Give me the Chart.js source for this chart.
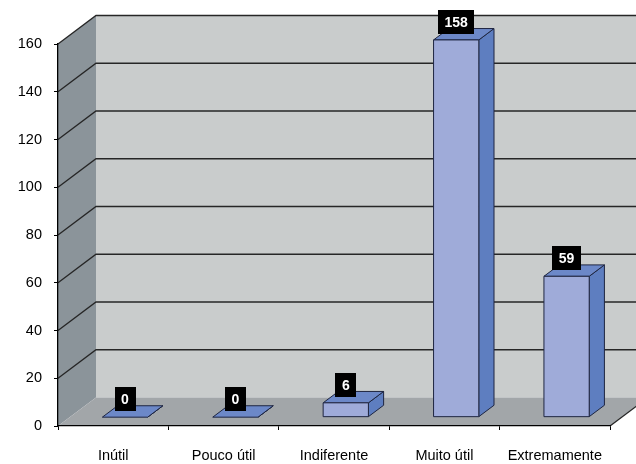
<!DOCTYPE html>
<html>
<head>
<meta charset="utf-8">
<script src="https://cdn.jsdelivr.net/npm/chart.js@4.4.1/dist/chart.umd.min.js"></script>
<style>
  html, body { margin: 0; padding: 0; background: #ffffff; }
  #wrap { width: 636px; height: 464px; }
</style>
</head>
<body>
<div id="wrap"><canvas id="c" width="636" height="464"></canvas></div>
<script>
// Answers per category
const categories = ['Inútil', 'Pouco útil', 'Indiferente', 'Muito útil', 'Extremamente'];
const responses = [0, 0, 6, 158, 59];

// Value axis
const yMin = 0;
const yMax = 160;
const yStep = 20;

// 3D look: how far the room recedes, and where the bars sit inside it
const DEPTH_X = 38;
const DEPTH_Y = 28.5;
const BAR_Z0 = 0.31;
const BAR_Z1 = 0.71;
const FONT = "Arial, 'Liberation Sans', sans-serif";
const AXIS_FONT_SIZE = 14.5;

const COLORS = {
  backWall: '#C9CCCC',
  sideWall: '#8B949A',
  floor: '#A2A6A9',
  grid: '#262626',
  barFront: '#9FABD9',
  barTop: '#6C88C8',
  barSide: '#5E7EC0',
  barEdge: '#1E2540'
};

function poly(ctx, pts, fill, stroke, lw) {
  ctx.beginPath();
  ctx.moveTo(pts[0][0], pts[0][1]);
  for (let i = 1; i < pts.length; i++) ctx.lineTo(pts[i][0], pts[i][1]);
  ctx.closePath();
  if (fill) { ctx.fillStyle = fill; ctx.fill(); }
  if (stroke) { ctx.strokeStyle = stroke; ctx.lineWidth = lw || 1; ctx.stroke(); }
}

// Walls, floor and the receding gridlines
const roomPlugin = {
  id: 'room',
  beforeDraw(chart) {
    const { ctx, chartArea: { left, right, top, bottom } } = chart;
    const ys = chart.scales.y;
    const W = chart.width;
    ctx.save();
    // back wall
    poly(ctx, [[left + DEPTH_X, top - DEPTH_Y], [W + 2, top - DEPTH_Y], [W + 2, bottom - DEPTH_Y], [left + DEPTH_X, bottom - DEPTH_Y]], COLORS.backWall);
    // left wall
    poly(ctx, [[left, top], [left + DEPTH_X, top - DEPTH_Y], [left + DEPTH_X, bottom - DEPTH_Y], [left, bottom]], COLORS.sideWall);
    // floor
    poly(ctx, [[left, bottom], [left + DEPTH_X, bottom - DEPTH_Y], [right + DEPTH_X + 40, bottom - DEPTH_Y], [right, bottom]], COLORS.floor);
    // clear what lies past the floor's right edge
    poly(ctx, [[right, bottom], [right + DEPTH_X + 40, bottom - DEPTH_Y - 40 * DEPTH_Y / DEPTH_X], [W + 2, bottom + 2]], '#ffffff');

    ctx.strokeStyle = COLORS.grid;
    ctx.lineWidth = 1.3;
    for (let v = yMin + yStep; v <= yMax; v += yStep) {
      const py = ys.getPixelForValue(v);
      ctx.beginPath();
      ctx.moveTo(left, py);
      ctx.lineTo(left + DEPTH_X, py - DEPTH_Y);
      ctx.lineTo(W + 2, py - DEPTH_Y);
      ctx.stroke();
    }
    // right edge of the floor
    ctx.beginPath();
    ctx.moveTo(right, bottom);
    ctx.lineTo(right + DEPTH_X, bottom - DEPTH_Y);
    ctx.stroke();
    ctx.restore();
  }
};

function boxGeometry(el) {
  const p = el.getProps(['x', 'y', 'base', 'width'], true);
  const x0 = p.x - p.width / 2 + BAR_Z0 * DEPTH_X;
  const x1 = p.x + p.width / 2 + BAR_Z0 * DEPTH_X;
  const t = p.y - BAR_Z0 * DEPTH_Y;
  const b = p.base - BAR_Z0 * DEPTH_Y;
  const dx = (BAR_Z1 - BAR_Z0) * DEPTH_X;
  const dy = (BAR_Z1 - BAR_Z0) * DEPTH_Y;
  return { x0, x1, t, b, dx, dy };
}

// Solid 3D columns built on the bar elements' own positions
const boxPlugin = {
  id: 'boxes',
  afterDatasetsDraw(chart) {
    const { ctx } = chart;
    const meta = chart.getDatasetMeta(0);
    ctx.save();
    ctx.lineJoin = 'round';
    meta.data.forEach((el) => {
      const { x0, x1, t, b, dx, dy } = boxGeometry(el);
      poly(ctx, [[x1, t], [x1 + dx, t - dy], [x1 + dx, b - dy], [x1, b]], COLORS.barSide, COLORS.barEdge, 1);
      poly(ctx, [[x0, t], [x1, t], [x1 + dx, t - dy], [x0 + dx, t - dy]], COLORS.barTop, COLORS.barEdge, 1);
      if (b - t > 0.5) {
        poly(ctx, [[x0, t], [x1, t], [x1, b], [x0, b]], COLORS.barFront, COLORS.barEdge, 1);
      }
    });
    ctx.restore();
  },
  afterDraw(chart) {
    const { ctx } = chart;
    const meta = chart.getDatasetMeta(0);
    const values = chart.data.datasets[0].data;
    ctx.save();
    ctx.font = 'bold 14px ' + FONT;
    ctx.textAlign = 'center';
    ctx.textBaseline = 'middle';
    meta.data.forEach((el, i) => {
      const { x0, x1, t } = boxGeometry(el);
      const text = String(values[i]);
      const w = ctx.measureText(text).width + 13;
      const h = 24;
      const cx = (x0 + x1) / 2;
      const bottom = t - 6;
      ctx.fillStyle = '#000000';
      ctx.fillRect(Math.round(cx - w / 2), Math.round(bottom - h), Math.round(w), h);
      ctx.fillStyle = '#ffffff';
      ctx.fillText(text, cx, Math.round(bottom - h) + h / 2 + 1);
    });
    ctx.restore();
  }
};

new Chart(document.getElementById('c'), {
  type: 'bar',
  data: {
    labels: categories,
    datasets: [{
      data: responses,
      backgroundColor: 'rgba(0,0,0,0)',
      borderWidth: 0,
      barPercentage: 0.41,
      categoryPercentage: 1
    }]
  },
  options: {
    responsive: false,
    animation: false,
    layout: { padding: { left: 0, right: 26, top: 44, bottom: 0 } },
    plugins: { legend: { display: false }, tooltip: { enabled: false } },
    scales: {
      x: {
        afterFit(scale) { scale.height = 38; },
        grid: { drawOnChartArea: false, drawTicks: true, tickLength: 4, color: '#000000', offset: true },
        border: { display: true, color: '#000000', width: 1.3 },
        ticks: { color: '#000000', padding: 17, maxRotation: 0, autoSkip: false, font: { family: FONT, size: AXIS_FONT_SIZE } }
      },
      y: {
        min: yMin,
        max: yMax,
        afterFit(scale) { scale.width = 58; },
        grid: { drawOnChartArea: false, drawTicks: true, tickLength: 4, color: '#000000' },
        border: { display: true, color: '#000000', width: 1.3 },
        ticks: { stepSize: yStep, color: '#000000', padding: 12, font: { family: FONT, size: AXIS_FONT_SIZE } }
      }
    }
  },
  plugins: [roomPlugin, boxPlugin]
});
</script>
</body>
</html>
